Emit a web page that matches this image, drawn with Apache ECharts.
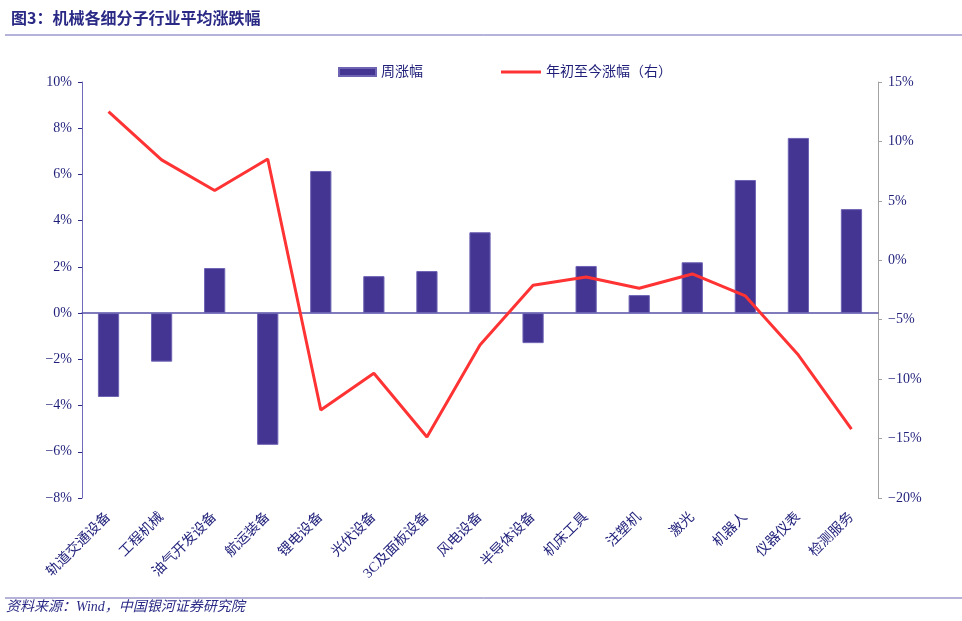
<!DOCTYPE html>
<html>
<head>
<meta charset="utf-8">
<script src="https://cdn.jsdelivr.net/npm/echarts@6/dist/echarts.min.js"></script>
<style>
  html, body { margin: 0; padding: 0; background: #fff; }
  #chart { width: 962px; height: 621px; }
</style>
</head>
<body>
<div id="chart"></div>
<script>
// 分类与数据
const categories = ['轨道交通设备', '工程机械', '油气开发设备', '航运装备', '锂电设备', '光伏设备', '3C及面板设备',
  '风电设备', '半导体设备', '机床工具', '注塑机', '激光', '机器人', '仪器仪表', '检测服务']
const weeklyChange = [-3.63, -2.1, 1.95, -5.7, 6.15, 1.6, 1.82, 3.5, -1.3, 2.04, 0.78, 2.2, 5.76, 7.58, 4.5]
const ytdChange = [12.5, 8.45, 5.87, 8.52, -12.6, -9.5, -14.87, -7.13, -2.1, -1.4, -2.35, -1.15, -3.0, -7.97, -14.2]

const navy = '#1f1f7a'
const serif = '"Liberation Serif", "Noto Sans CJK SC", serif'
const pct = v => v.toString().replace('-', '−') + '%'

const chart = echarts.init(document.getElementById('chart'))
chart.setOption({
  backgroundColor: '#fff',
  animation: false,
  textStyle: { fontFamily: serif },
  title: {
    text: '图3：机械各细分子行业平均涨跌幅',
    left: 6, top: 5,
    textStyle: { fontSize: 16, fontWeight: 'bold', color: '#2a2a86', fontFamily: '"Noto Sans CJK SC", sans-serif' }
  },
  graphic: [
    { type: 'line', shape: { x1: 5, y1: 35, x2: 962, y2: 35 }, style: { stroke: '#6c66b5', lineWidth: 1 } },
    { type: 'line', shape: { x1: 5, y1: 598, x2: 962, y2: 598 }, style: { stroke: '#6c66b5', lineWidth: 1 } },
    {
      type: 'text', left: 6, top: 600,
      style: { text: '资料来源：Wind，中国银河证券研究院', fill: '#2a2a86', font: 'italic 14px "Liberation Serif", "Noto Sans CJK SC", serif' }
    }
  ],
  legend: [
    {
      left: 333, top: 60,
      itemWidth: 37, itemHeight: 8,
      textStyle: { fontSize: 14, color: navy },
      data: [{ name: '周涨幅', icon: 'rect' }]
    },
    {
      left: 496, top: 60,
      itemWidth: 40, itemHeight: 3,
      textStyle: { fontSize: 14, color: navy },
      data: [{ name: '年初至今涨幅（右）', icon: 'rect' }]
    }
  ],
  grid: { left: 82, right: 84, top: 82, bottom: 123, outerBoundsMode: 'none' },
  xAxis: [
    {
      // 零轴线与刻度
      type: 'category',
      data: categories,
      axisLine: { onZero: true, onZeroAxisIndex: 0, lineStyle: { color: '#5750a8', width: 1.5 } },
      axisTick: { inside: true, length: 3, lineStyle: { color: '#2a2a86' } },
      axisLabel: { show: false }
    },
    {
      // 底部类目标签
      type: 'category',
      position: 'bottom',
      data: categories,
      axisLine: { show: false, onZero: false },
      axisTick: { show: false },
      axisLabel: { rotate: 45, fontSize: 14, color: navy, margin: 17, interval: 0 }
    }
  ],
  yAxis: [
    {
      type: 'value', min: -8, max: 10, interval: 2,
      splitLine: { show: false },
      axisLine: { show: true, lineStyle: { color: '#6f6ab8' } },
      axisTick: { show: true, length: 4, lineStyle: { color: '#2a2a86' } },
      axisLabel: { fontSize: 14, color: navy, margin: 10, formatter: pct }
    },
    {
      type: 'value', min: -20, max: 15, interval: 5,
      splitLine: { show: false },
      axisLine: { show: true, lineStyle: { color: '#a3a3a3' } },
      axisTick: { show: true, length: 4, lineStyle: { color: '#a3a3a3' } },
      axisLabel: { fontSize: 14, color: navy, margin: 10, formatter: pct }
    }
  ],
  series: [
    {
      name: '周涨幅',
      type: 'bar',
      yAxisIndex: 0,
      barWidth: '40%',
      data: weeklyChange,
      itemStyle: { color: '#443592', borderColor: '#6d64b4', borderWidth: 1 }
    },
    {
      name: '年初至今涨幅（右）',
      type: 'line',
      yAxisIndex: 1,
      symbol: 'none',
      data: ytdChange,
      lineStyle: { color: '#ff3333', width: 3 },
      itemStyle: { color: '#ff3333' }
    }
  ]
})
</script>
</body>
</html>
